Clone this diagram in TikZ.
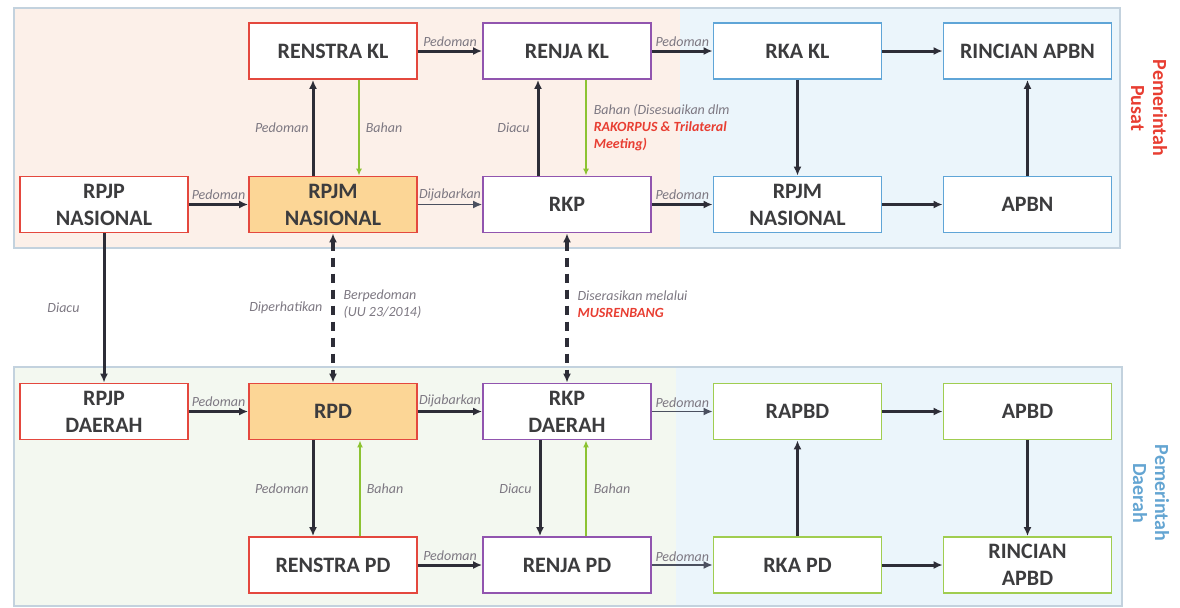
\documentclass[tikz,border=0pt]{standalone}
\usepackage{fontspec}
\setmainfont{Carlito}
\usetikzlibrary{arrows.meta}
\definecolor{pinkbg}{RGB}{252,240,233}
\definecolor{bluebg}{RGB}{235,245,251}
\definecolor{greenbg}{RGB}{243,248,240}
\definecolor{panelline}{RGB}{195,210,222}
\definecolor{redb}{RGB}{228,72,62}
\definecolor{purb}{RGB}{145,85,175}
\definecolor{blueb}{RGB}{95,165,215}
\definecolor{greenb}{RGB}{160,205,80}
\definecolor{orangef}{RGB}{252,214,150}
\definecolor{arrowc}{RGB}{45,45,55}
\definecolor{thinc}{RGB}{75,80,95}
\definecolor{grnarrow}{RGB}{140,195,50}
\definecolor{lblc}{RGB}{125,120,130}
\definecolor{redtext}{RGB}{232,62,50}
\definecolor{bluetext}{RGB}{100,165,210}
\definecolor{boxtext}{RGB}{60,60,62}
\tikzset{
  box/.style={draw, fill=white, minimum width=84pt, minimum height=28pt, inner sep=0pt,
    align=center, text=boxtext, line width=0.9pt,
    font=\bfseries\fontsize{11}{13.5}\selectfont},
  rbox/.style={box, draw=redb},
  pbox/.style={box, draw=purb},
  bbox/.style={box, draw=blueb},
  gbox/.style={box, draw=greenb},
  obox/.style={box, draw=redb, fill=orangef},
  arr/.style={draw=arrowc, line width=1.5pt, -{Latex[length=4.5pt,width=4pt]}},
  thinarr/.style={draw=thinc, line width=0.7pt, -{Latex[length=4.5pt,width=4pt]}},
  grn/.style={draw=grnarrow, line width=0.8pt, -{Latex[length=3.5pt,width=3pt]}},
  dsh/.style={draw=arrowc, line width=1.6pt, dash pattern=on 4.5pt off 3.5pt,
    {Latex[length=4.5pt,width=4pt]}-{Latex[length=4.5pt,width=4pt]}},
  lbl/.style={font=\itshape\fontsize{7}{8.5}\selectfont, text=lblc, inner sep=1.5pt},
  side/.style={font=\bfseries\fontsize{10}{11}\selectfont, rotate=-90, align=center}
}
\begin{document}
\begin{tikzpicture}[x=0.5pt,y=-0.5pt]
\useasboundingbox (0,0) rectangle (1180,607);
% panels
\fill[pinkbg] (14,8) rectangle (680,248);
\fill[bluebg] (680,8) rectangle (1120,248);
\draw[panelline, line width=0.6pt] (14,8) rectangle (1120,248);
\fill[greenbg] (14,367) rectangle (676,606);
\fill[bluebg] (676,367) rectangle (1122,606);
\draw[panelline, line width=0.6pt] (14,367) rectangle (1122,606);

% top row
\node[rbox] (renstrakl) at (333,51) {RENSTRA KL};
\node[pbox] (renjakl) at (567,51) {RENJA KL};
\node[bbox] (rkakl) at (797.5,51) {RKA KL};
\node[bbox] (rincianapbn) at (1027.5,51) {RINCIAN APBN};
% row 2
\node[rbox] (rpjpn) at (104,204.5) {RPJP\\NASIONAL};
\node[obox] (rpjmn) at (333,204.5) {RPJM\\NASIONAL};
\node[pbox] (rkp) at (567,204.5) {RKP};
\node[bbox] (rpjmn2) at (797.5,204.5) {RPJM\\NASIONAL};
\node[bbox] (apbn) at (1027.5,204.5) {APBN};
% row 3
\node[rbox] (rpjpd) at (104,411.5) {RPJP\\DAERAH};
\node[obox] (rpd) at (333,411.5) {RPD};
\node[pbox] (rkpd) at (567,411.5) {RKP\\DAERAH};
\node[gbox] (rapbd) at (797.5,411.5) {RAPBD};
\node[gbox] (apbd) at (1027.5,411.5) {APBD};
% row 4
\node[rbox] (renstrapd) at (333,565) {RENSTRA PD};
\node[pbox] (renjapd) at (567,565) {RENJA PD};
\node[gbox] (rkapd) at (797.5,565) {RKA PD};
\node[gbox] (rincianapbd) at (1027.5,565) {RINCIAN\\APBD};

% top horizontal
\draw[arr] (renstrakl.east) -- node[lbl,above]{Pedoman} (renjakl.west);
\draw[arr] (renjakl.east) -- node[lbl,above]{Pedoman} (rkakl.west);
\draw[arr] (rkakl.east) -- (rincianapbn.west);
\draw[arr] (rpjpn.east) -- node[lbl,above]{Pedoman} (rpjmn.west);
\draw[thinarr] (rpjmn.east) -- node[lbl,above]{Dijabarkan} (rkp.west);
\draw[arr] (rkp.east) -- node[lbl,above]{Pedoman} (rpjmn2.west);
\draw[arr] (rpjmn2.east) -- (apbn.west);
% top vertical
\draw[arr] ([xshift=-10pt]rpjmn.north) -- node[lbl,left]{Pedoman} ([xshift=-10pt]renstrakl.south);
\draw[grn] ([xshift=13pt]renstrakl.south) -- node[lbl,right,xshift=1.5pt]{Bahan} ([xshift=13pt]rpjmn.north);
\draw[arr] ([xshift=-14.5pt]rkp.north) -- node[lbl,left,xshift=-2pt]{Diacu} ([xshift=-14.5pt]renjakl.south);
\draw[grn] ([xshift=9.5pt]renjakl.south) -- node[lbl,right,align=left,xshift=2pt]{Bahan (Disesuaikan dlm\\{\bfseries\color{redtext}RAKORPUS \& Trilateral}\\{\bfseries\color{redtext}Meeting)}} ([xshift=9.5pt]rkp.north);
\draw[arr] (rkakl.south) -- (rpjmn2.north);
\draw[arr] (apbn.north) -- (rincianapbn.south);

% middle
\draw[arr] (rpjpn.south) -- node[lbl,left,xshift=-10pt]{Diacu} (rpjpd.north);
\draw[dsh] (rpjmn.south) -- node[lbl,left,xshift=-3pt]{Diperhatikan}
  node[lbl,right,align=left,xshift=3pt,yshift=2pt]{Berpedoman\\(UU 23/2014)} (rpd.north);
\draw[dsh] (rkp.south) -- node[lbl,right,align=left,xshift=3pt,yshift=2pt]{Diserasikan melalui\\{\bfseries\color{redtext}MUSRENBANG}} (rkpd.north);

% bottom horizontal
\draw[arr] (rpjpd.east) -- node[lbl,above]{Pedoman} (rpd.west);
\draw[arr] (rpd.east) -- node[lbl,above]{Dijabarkan} (rkpd.west);
\draw[thinarr] (rkpd.east) -- node[lbl,above]{Pedoman} (rapbd.west);
\draw[arr] (rapbd.east) -- (apbd.west);
\draw[arr] (renstrapd.east) -- node[lbl,above]{Pedoman} (renjapd.west);
\draw[thinarr] (renjapd.east) -- node[lbl,above]{Pedoman} (rkapd.west);
\draw[arr] (rkapd.east) -- (rincianapbd.west);
% bottom vertical
\draw[arr] ([xshift=-10pt]rpd.south) -- node[lbl,left]{Pedoman} ([xshift=-10pt]renstrapd.north);
\draw[grn] ([xshift=13.5pt]renstrapd.north) -- node[lbl,right,xshift=1.5pt]{Bahan} ([xshift=13.5pt]rpd.south);
\draw[arr] ([xshift=-13.5pt]rkpd.south) -- node[lbl,left,xshift=-2pt]{Diacu} ([xshift=-13.5pt]renjapd.north);
\draw[grn] ([xshift=9.5pt]renjapd.north) -- node[lbl,right,xshift=2pt]{Bahan} ([xshift=9.5pt]rkpd.south);
\draw[arr] (rkapd.north) -- (rapbd.south);
\draw[arr] (apbd.south) -- (rincianapbd.north);

% side labels
\node[side, text=redtext] (pusat) at (1149,108) {Pemerintah\\Pusat};
\node[side, text=bluetext] (daerah) at (1151,493) {Pemerintah\\Daerah};
\end{tikzpicture}
\end{document}
